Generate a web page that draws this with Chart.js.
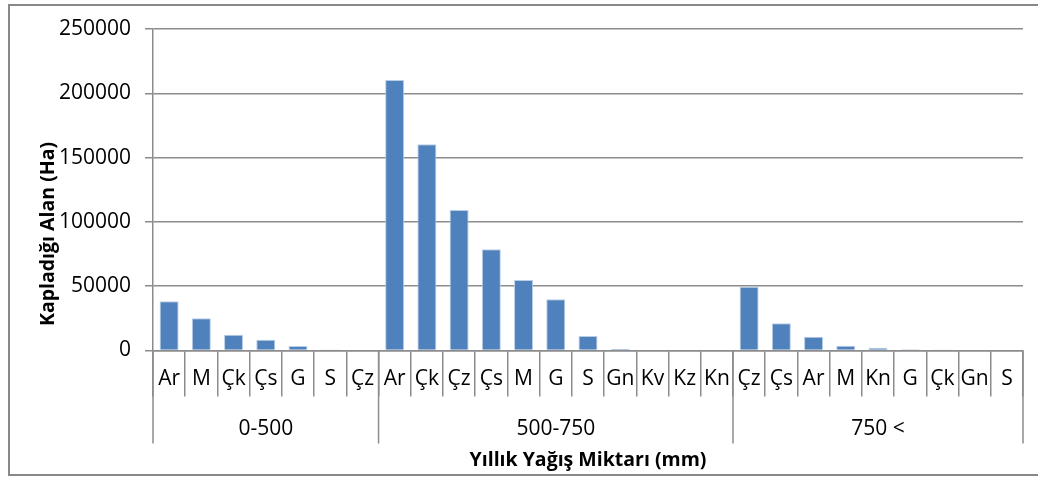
<!DOCTYPE html>
<html lang="tr">
<head>
<meta charset="UTF-8">
<title>Yıllık Yağış Miktarı</title>
<script src="https://cdn.jsdelivr.net/npm/chart.js"></script>
<style>
  html, body { margin: 0; padding: 0; background: #fff; }
  #wrap { position: relative; width: 1038px; height: 477px; }
</style>
</head>
<body>
<div id="wrap"><canvas id="chart" width="1038" height="477"></canvas></div>
<script>
// kategoriler (yağış grubu içindeki tür kısaltmaları)
const groups = ['0-500', '500-750', '750 <'];
const groupSizes = [7, 11, 9];
const categories = [
  'Ar', 'M', 'Çk', 'Çs', 'G', 'S', 'Çz',
  'Ar', 'Çk', 'Çz', 'Çs', 'M', 'G', 'S', 'Gn', 'Kv', 'Kz', 'Kn',
  'Çz', 'Çs', 'Ar', 'M', 'Kn', 'G', 'Çk', 'Gn', 'S'
];
// kapladığı alan (Ha), grafikten okunmuş tahmini değerler
const area0_500 = [38300, 25000, 12300, 8400, 3500, 800, 0];
const area500_750 = [210300, 160300, 109300, 78700, 54800, 39800, 11300, 1200, 0, 0, 0];
const area750 = [49600, 21100, 10700, 3700, 2200, 900, 800, 0, 0];
const yTicks = [0, 50000, 100000, 150000, 200000, 250000];

const values = area0_500.concat(area500_750, area750);
const FONT = '"Open Sans", sans-serif';
const GRID = '#8c8c8c';

// grup etiketleri, ayırıcılar, eksen başlıkları ve çerçeve
const extras = {
  id: 'extras',
  afterDraw(chart) {
    const ctx = chart.ctx;
    const x = chart.scales.x;
    const area = chart.chartArea;
    const step = x.getPixelForValue(1) - x.getPixelForValue(0);
    ctx.save();
    ctx.strokeStyle = GRID;
    ctx.lineWidth = 1.5;
    let start = 0;
    const edges = [];
    groupSizes.forEach(n => {
      edges.push(x.getPixelForValue(start) - step / 2);
      start += n;
    });
    edges.push(x.getPixelForValue(start - 1) + step / 2);
    edges.forEach(px => {
      ctx.beginPath();
      ctx.moveTo(px, area.bottom);
      ctx.lineTo(px, area.bottom + 93);
      ctx.stroke();
    });
    ctx.fillStyle = '#000';
    ctx.font = '21px ' + FONT;
    ctx.textAlign = 'center';
    ctx.textBaseline = 'middle';
    groups.forEach((g, i) => {
      ctx.fillText(g, (edges[i] + edges[i + 1]) / 2, area.bottom + 79);
    });
    // eksen başlıkları
    ctx.font = 'bold 19.5px ' + FONT;
    ctx.fillText('Yıllık Yağış Miktarı (mm)', (area.left + area.right) / 2, 460);
    ctx.translate(48, 234);
    ctx.rotate(-Math.PI / 2);
    ctx.fillText('Kapladığı Alan (Ha)', 0, 0);
    ctx.restore();
    // dış çerçeve
    ctx.save();
    ctx.strokeStyle = '#888';
    ctx.lineWidth = 2;
    ctx.strokeRect(9, 5, 1040, 470);
    ctx.restore();
  }
};

new Chart(document.getElementById('chart'), {
  type: 'bar',
  data: {
    labels: categories,
    datasets: [{
      data: values,
      backgroundColor: '#4f81bd',
      borderColor: '#b9cde5',
      borderWidth: 1,
      barPercentage: 0.59,
      categoryPercentage: 1
    }]
  },
  options: {
    responsive: false,
    animation: false,
    layout: { padding: { left: 0, top: 29, right: 15, bottom: 0 } },
    plugins: { legend: { display: false }, tooltip: { enabled: false } },
    scales: {
      x: {
        offset: true,
        grid: {
          offset: true,
          drawOnChartArea: false,
          color: GRID,
          lineWidth: 1.5,
          tickLength: 46
        },
        border: { display: true, color: GRID, width: 1.5 },
        ticks: {
          color: '#000',
          font: { family: FONT, size: 21 },
          padding: -30,
          maxRotation: 0,
          autoSkip: false
        },
        afterFit(scale) { scale.height = 126.5; }
      },
      y: {
        min: 0,
        max: 250000,
        afterBuildTicks(scale) { scale.ticks = yTicks.map(v => ({ value: v })); },
        grid: { color: GRID, lineWidth: 1.5, tickLength: 8 },
        border: { display: true, color: GRID, width: 1.5 },
        ticks: {
          color: '#000',
          font: { family: FONT, size: 21 },
          padding: 14,
          callback: v => String(v)
        },
        afterFit(scale) { scale.width = 153; }
      }
    }
  },
  plugins: [extras]
});
</script>
</body>
</html>
